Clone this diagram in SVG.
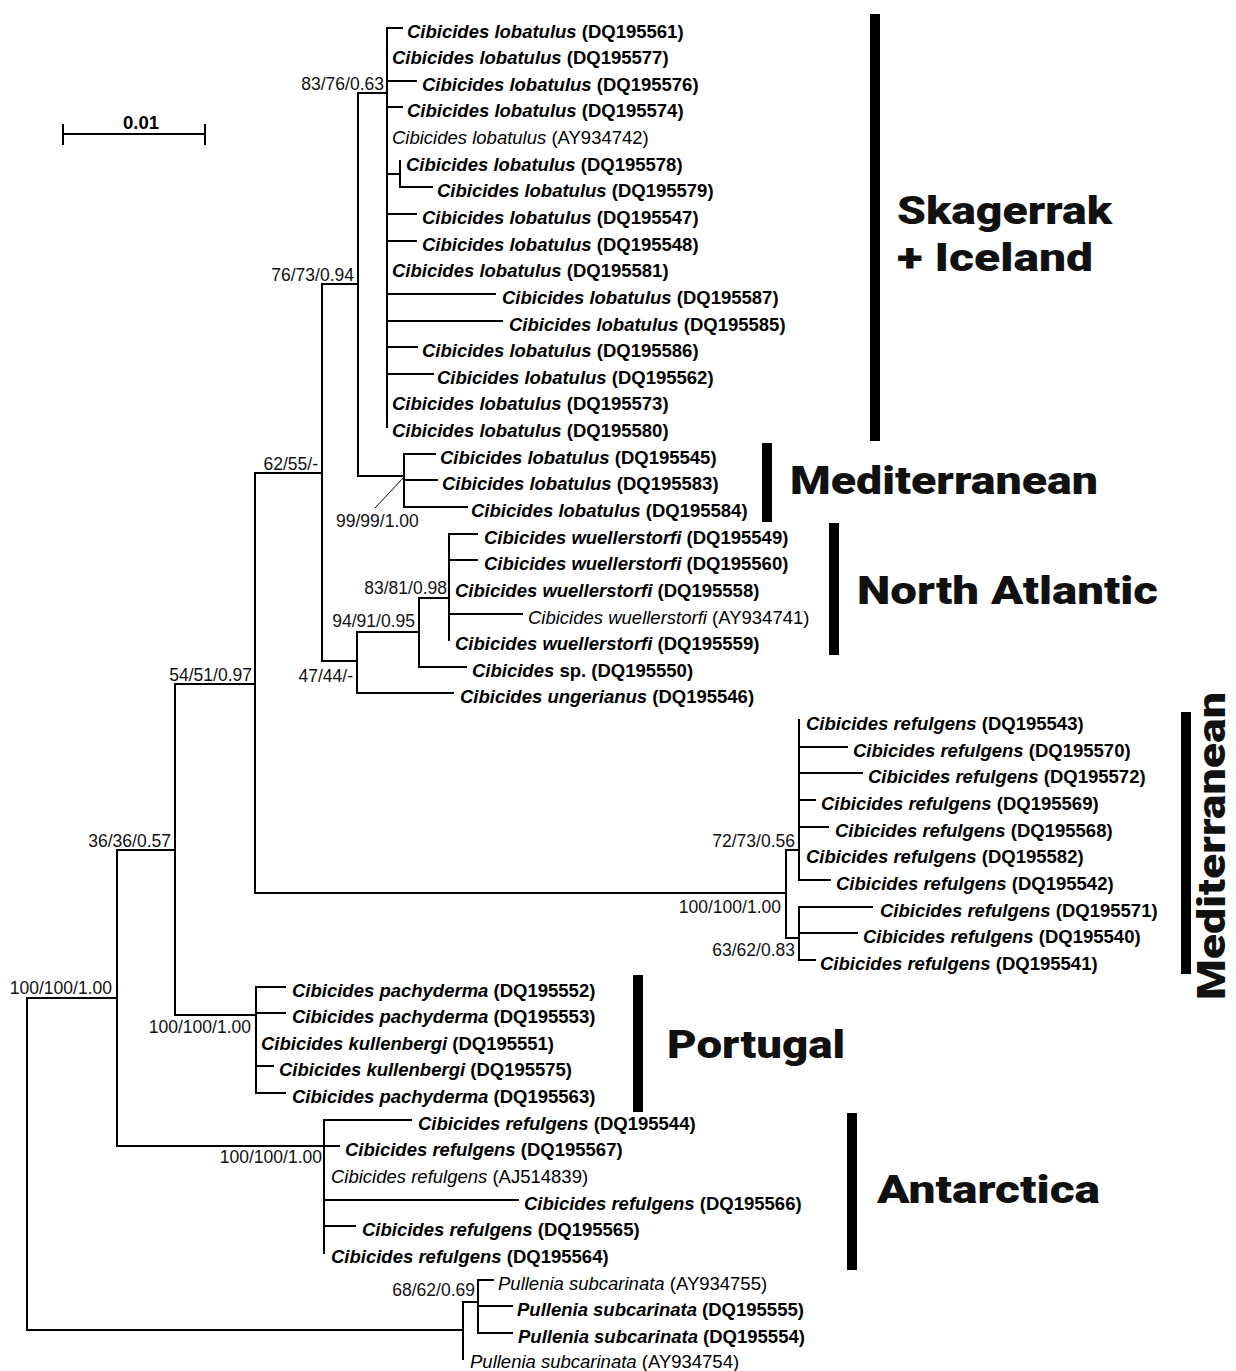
<svg xmlns="http://www.w3.org/2000/svg" width="1236" height="1371" viewBox="0 0 1236 1371">
<style>
text{font-family:"Liberation Sans",Arial,sans-serif;fill:#000}
.b{font-size:18.5px;font-weight:bold}
.r{font-size:18.5px;font-weight:normal}
.i{font-style:italic}
.s{font-size:17.5px;text-anchor:end;fill:#111}
.sl{font-size:17.5px;text-anchor:start;fill:#111}
.br{fill:none;stroke:#000;stroke-width:2;stroke-linecap:square}
.thin{fill:none;stroke:#000;stroke-width:1}
.bar{fill:#000}
.big{font-family:"Roboto","Liberation Sans",sans-serif;font-weight:900;font-size:39px;fill:#111}
</style>
<rect width="1236" height="1371" fill="#fff"/>

<g id="scale-bar">
<path class="br" d="M63 134H205M63 125V144M205 125V144"/>
<text class="b" x="141" y="129" text-anchor="middle" font-size="19">0.01</text>
</g>

<g id="connectors">
<path class="br" d="M387 28V427M358 93H387M400 161V187M387 174H400M358 93V476H404M404 454V507M322 284V661M322 284H358M255 473H322M357 632V693M322 661H357M419 598V667M357 632H419M449 534V640M419 598H449M255 473V893M175 684H255M255 893H786M786 850V938M786 850H799M799 720V880M786 938H799M799 907V960M175 684V1015M117 850H175M175 1015H256M256 987V1093M117 850V1146M27 998H117M117 1146H324M324 1120V1253M27 998V1330H463M463 1302V1359M463 1302H478M478 1280V1333"/>
<path class="br" d="M387 28H402M387 81H416M387 107H402M400 187H432M387 214H416M387 241H416M387 294H495M387 321H502M387 347H417M387 374H433M404 454H435M404 480H437M404 507H467M449 534H477M449 560H477M449 614H522M419 667H466M357 693H453M799 747H847M799 773H862M799 800H815M799 827H828M799 880H830M799 907H872M799 933H857M799 960H815M256 987H285M256 1013H285M256 1066H273M256 1093H285M324 1120H411M324 1146H339M324 1200H518M324 1226H355M478 1280H493M478 1306H512M478 1333H512"/>
<path class="thin" d="M375 508L404 477"/>
</g>

<g id="support-values">
<text class="s" x="384" y="90">83/76/0.63</text>
<text class="s" x="354" y="281">76/73/0.94</text>
<text class="s" x="318" y="470">62/55/-</text>
<text class="sl" x="336" y="527">99/99/1.00</text>
<text class="s" x="447" y="594">83/81/0.98</text>
<text class="s" x="415" y="627">94/91/0.95</text>
<text class="s" x="353" y="682">47/44/-</text>
<text class="s" x="252" y="681">54/51/0.97</text>
<text class="s" x="171" y="847">36/36/0.57</text>
<text class="s" x="112" y="994">100/100/1.00</text>
<text class="s" x="251" y="1033">100/100/1.00</text>
<text class="s" x="322" y="1163">100/100/1.00</text>
<text class="s" x="795" y="847">72/73/0.56</text>
<text class="s" x="781" y="913">100/100/1.00</text>
<text class="s" x="795" y="956">63/62/0.83</text>
<text class="s" x="475" y="1296">68/62/0.69</text>
</g>

<g id="leaf-DQ195561"><text class="b" x="407" y="38"><tspan class="i">Cibicides lobatulus</tspan> (DQ195561)</text></g>
<g id="leaf-DQ195577"><text class="b" x="392" y="64"><tspan class="i">Cibicides lobatulus</tspan> (DQ195577)</text></g>
<g id="leaf-DQ195576"><text class="b" x="422" y="91"><tspan class="i">Cibicides lobatulus</tspan> (DQ195576)</text></g>
<g id="leaf-DQ195574"><text class="b" x="407" y="117"><tspan class="i">Cibicides lobatulus</tspan> (DQ195574)</text></g>
<g id="leaf-AY934742"><text class="r" x="392" y="144"><tspan class="i">Cibicides lobatulus</tspan> (AY934742)</text></g>
<g id="leaf-DQ195578"><text class="b" x="406" y="171"><tspan class="i">Cibicides lobatulus</tspan> (DQ195578)</text></g>
<g id="leaf-DQ195579"><text class="b" x="437" y="197"><tspan class="i">Cibicides lobatulus</tspan> (DQ195579)</text></g>
<g id="leaf-DQ195547"><text class="b" x="422" y="224"><tspan class="i">Cibicides lobatulus</tspan> (DQ195547)</text></g>
<g id="leaf-DQ195548"><text class="b" x="422" y="251"><tspan class="i">Cibicides lobatulus</tspan> (DQ195548)</text></g>
<g id="leaf-DQ195581"><text class="b" x="392" y="277"><tspan class="i">Cibicides lobatulus</tspan> (DQ195581)</text></g>
<g id="leaf-DQ195587"><text class="b" x="502" y="304"><tspan class="i">Cibicides lobatulus</tspan> (DQ195587)</text></g>
<g id="leaf-DQ195585"><text class="b" x="509" y="331"><tspan class="i">Cibicides lobatulus</tspan> (DQ195585)</text></g>
<g id="leaf-DQ195586"><text class="b" x="422" y="357"><tspan class="i">Cibicides lobatulus</tspan> (DQ195586)</text></g>
<g id="leaf-DQ195562"><text class="b" x="437" y="384"><tspan class="i">Cibicides lobatulus</tspan> (DQ195562)</text></g>
<g id="leaf-DQ195573"><text class="b" x="392" y="410"><tspan class="i">Cibicides lobatulus</tspan> (DQ195573)</text></g>
<g id="leaf-DQ195580"><text class="b" x="392" y="437"><tspan class="i">Cibicides lobatulus</tspan> (DQ195580)</text></g>
<g id="leaf-DQ195545"><text class="b" x="440" y="464"><tspan class="i">Cibicides lobatulus</tspan> (DQ195545)</text></g>
<g id="leaf-DQ195583"><text class="b" x="442" y="490"><tspan class="i">Cibicides lobatulus</tspan> (DQ195583)</text></g>
<g id="leaf-DQ195584"><text class="b" x="471" y="517"><tspan class="i">Cibicides lobatulus</tspan> (DQ195584)</text></g>
<g id="leaf-DQ195549"><text class="b" x="484" y="544"><tspan class="i">Cibicides wuellerstorfi</tspan> (DQ195549)</text></g>
<g id="leaf-DQ195560"><text class="b" x="484" y="570"><tspan class="i">Cibicides wuellerstorfi</tspan> (DQ195560)</text></g>
<g id="leaf-DQ195558"><text class="b" x="455" y="597"><tspan class="i">Cibicides wuellerstorfi</tspan> (DQ195558)</text></g>
<g id="leaf-AY934741"><text class="r" x="528" y="624"><tspan class="i">Cibicides wuellerstorfi</tspan> (AY934741)</text></g>
<g id="leaf-DQ195559"><text class="b" x="455" y="650"><tspan class="i">Cibicides wuellerstorfi</tspan> (DQ195559)</text></g>
<g id="leaf-DQ195550"><text class="b" x="472" y="677"><tspan class="i">Cibicides</tspan> sp. (DQ195550)</text></g>
<g id="leaf-DQ195546"><text class="b" x="460" y="703"><tspan class="i">Cibicides ungerianus</tspan> (DQ195546)</text></g>
<g id="leaf-DQ195543"><text class="b" x="806" y="730"><tspan class="i">Cibicides refulgens</tspan> (DQ195543)</text></g>
<g id="leaf-DQ195570"><text class="b" x="853" y="757"><tspan class="i">Cibicides refulgens</tspan> (DQ195570)</text></g>
<g id="leaf-DQ195572"><text class="b" x="868" y="783"><tspan class="i">Cibicides refulgens</tspan> (DQ195572)</text></g>
<g id="leaf-DQ195569"><text class="b" x="821" y="810"><tspan class="i">Cibicides refulgens</tspan> (DQ195569)</text></g>
<g id="leaf-DQ195568"><text class="b" x="835" y="837"><tspan class="i">Cibicides refulgens</tspan> (DQ195568)</text></g>
<g id="leaf-DQ195582"><text class="b" x="806" y="863"><tspan class="i">Cibicides refulgens</tspan> (DQ195582)</text></g>
<g id="leaf-DQ195542"><text class="b" x="836" y="890"><tspan class="i">Cibicides refulgens</tspan> (DQ195542)</text></g>
<g id="leaf-DQ195571"><text class="b" x="880" y="917"><tspan class="i">Cibicides refulgens</tspan> (DQ195571)</text></g>
<g id="leaf-DQ195540"><text class="b" x="863" y="943"><tspan class="i">Cibicides refulgens</tspan> (DQ195540)</text></g>
<g id="leaf-DQ195541"><text class="b" x="820" y="970"><tspan class="i">Cibicides refulgens</tspan> (DQ195541)</text></g>
<g id="leaf-DQ195552"><text class="b" x="292" y="997"><tspan class="i">Cibicides pachyderma</tspan> (DQ195552)</text></g>
<g id="leaf-DQ195553"><text class="b" x="292" y="1023"><tspan class="i">Cibicides pachyderma</tspan> (DQ195553)</text></g>
<g id="leaf-DQ195551"><text class="b" x="261" y="1050"><tspan class="i">Cibicides kullenbergi</tspan> (DQ195551)</text></g>
<g id="leaf-DQ195575"><text class="b" x="279" y="1076"><tspan class="i">Cibicides kullenbergi</tspan> (DQ195575)</text></g>
<g id="leaf-DQ195563"><text class="b" x="292" y="1103"><tspan class="i">Cibicides pachyderma</tspan> (DQ195563)</text></g>
<g id="leaf-DQ195544"><text class="b" x="418" y="1130"><tspan class="i">Cibicides refulgens</tspan> (DQ195544)</text></g>
<g id="leaf-DQ195567"><text class="b" x="345" y="1156"><tspan class="i">Cibicides refulgens</tspan> (DQ195567)</text></g>
<g id="leaf-AJ514839"><text class="r" x="331" y="1183"><tspan class="i">Cibicides refulgens</tspan> (AJ514839)</text></g>
<g id="leaf-DQ195566"><text class="b" x="524" y="1210"><tspan class="i">Cibicides refulgens</tspan> (DQ195566)</text></g>
<g id="leaf-DQ195565"><text class="b" x="362" y="1236"><tspan class="i">Cibicides refulgens</tspan> (DQ195565)</text></g>
<g id="leaf-DQ195564"><text class="b" x="331" y="1263"><tspan class="i">Cibicides refulgens</tspan> (DQ195564)</text></g>
<g id="leaf-AY934755"><text class="r" x="498" y="1290"><tspan class="i">Pullenia subcarinata</tspan> (AY934755)</text></g>
<g id="leaf-DQ195555"><text class="b" x="517" y="1316"><tspan class="i">Pullenia subcarinata</tspan> (DQ195555)</text></g>
<g id="leaf-DQ195554"><text class="b" x="518" y="1343"><tspan class="i">Pullenia subcarinata</tspan> (DQ195554)</text></g>
<g id="leaf-AY934754"><text class="r" x="470" y="1368"><tspan class="i">Pullenia subcarinata</tspan> (AY934754)</text></g>

<g id="clade-skagerrak">
<rect class="bar" x="870" y="14" width="10" height="427"/>
<text class="big" x="897" y="224" textLength="215" lengthAdjust="spacingAndGlyphs">Skagerrak</text>
<text class="big" x="897" y="271" textLength="196" lengthAdjust="spacingAndGlyphs">+ Iceland</text>
</g>
<g id="clade-mediterranean-lobatulus">
<rect class="bar" x="762" y="443" width="10" height="79"/>
<text class="big" x="790" y="494" textLength="308" lengthAdjust="spacingAndGlyphs">Mediterranean</text>
</g>
<g id="clade-north-atlantic">
<rect class="bar" x="829" y="523" width="10" height="132"/>
<text class="big" x="857" y="604" textLength="301" lengthAdjust="spacingAndGlyphs">North Atlantic</text>
</g>
<g id="clade-mediterranean-refulgens">
<rect class="bar" x="1181" y="712" width="10" height="262"/>
<text class="big" transform="translate(1225 1000) rotate(-90)" x="0" y="0" textLength="308" lengthAdjust="spacingAndGlyphs">Mediterranean</text>
</g>
<g id="clade-portugal">
<rect class="bar" x="633" y="975" width="10" height="137"/>
<text class="big" x="667" y="1058" textLength="178" lengthAdjust="spacingAndGlyphs">Portugal</text>
</g>
<g id="clade-antarctica">
<rect class="bar" x="847" y="1113" width="10" height="157"/>
<text class="big" x="877" y="1203" textLength="223" lengthAdjust="spacingAndGlyphs">Antarctica</text>
</g>
</svg>
